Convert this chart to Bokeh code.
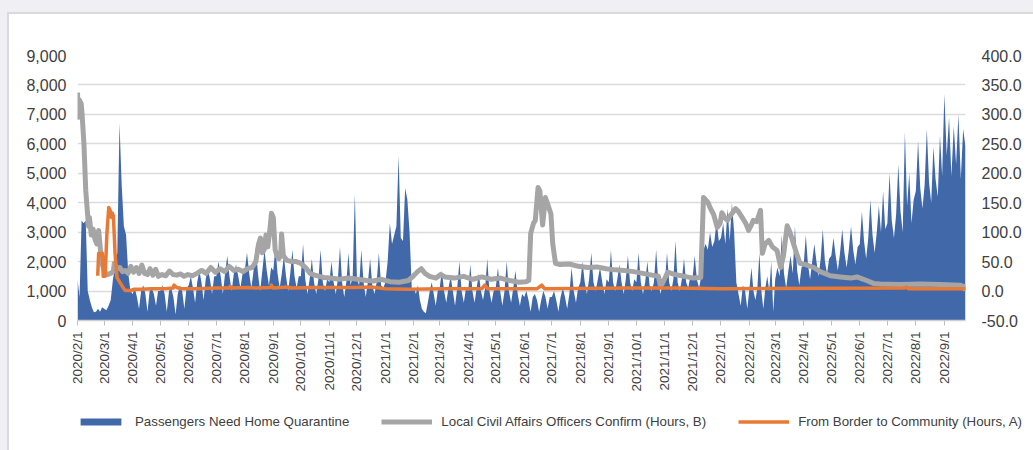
import math
import pandas as pd
from bokeh.plotting import figure
from bokeh.layouts import column
from bokeh.models import (Range1d, LinearAxis, FixedTicker, NumeralTickFormatter,
                          Legend, LegendItem)
from bokeh.embed import file_html
from bokeh.resources import INLINE

START = pd.Timestamp("2020-02-01")
END = pd.Timestamp("2022-09-24")

tick_labels = [
    "2020/2/1", "2020/3/1", "2020/4/1", "2020/5/1", "2020/6/1", "2020/7/1",
    "2020/8/1", "2020/9/1", "2020/10/1", "2020/11/1", "2020/12/1",
    "2021/1/1", "2021/2/1", "2021/3/1", "2021/4/1", "2021/5/1", "2021/6/1",
    "2021/7/1", "2021/8/1", "2021/9/1", "2021/10/1", "2021/11/1", "2021/12/1",
    "2022/1/1", "2022/2/1", "2022/3/1", "2022/4/1", "2022/5/1", "2022/6/1",
    "2022/7/1", "2022/8/1", "2022/9/1",
]

# Passengers needing home quarantine, sampled evenly within each month (one list per month)
blue_monthly = [
    [1400, 800, 3400, 3300, 3400, 1000, 700, 450, 280, 300, 400, 300, 450],          # 2020-02
    [400, 350, 500, 700, 1400, 1800, 2300, 6700, 4600, 3200, 2900, 1600, 1000],      # 2020-03
    [900, 1100, 800, 400, 1000, 1200, 900, 300, 1000, 1100, 900, 500, 1000],         # 2020-04
    [1000, 1200, 900, 300, 1000, 1100, 800, 200, 900, 1200, 1000, 400, 1100],        # 2020-05
    [1200, 1500, 1100, 600, 1300, 1700, 1300, 700, 1400, 1800, 1400, 900, 1500],     # 2020-06
    [1500, 2000, 1500, 900, 1600, 2200, 1500, 1000, 1600, 1900, 1500, 1100, 1600],   # 2020-07
    [1700, 2300, 1600, 1100, 1700, 2500, 1600, 1000, 1700, 2400, 1700, 1200, 1800],  # 2020-08
    [1700, 2500, 1600, 1100, 1600, 2200, 1500, 1000, 1600, 2400, 1500, 1100, 1500],  # 2020-09
    [1500, 2600, 1400, 900, 1400, 2100, 1300, 900, 1400, 2400, 1300, 1000, 1400],    # 2020-10
    [1300, 2000, 1300, 900, 1400, 2500, 1300, 800, 1300, 2300, 1200, 1500, 4300],    # 2020-11
    [1400, 1200, 2400, 1300, 800, 1300, 2100, 1200, 900, 1300, 2300, 1200, 1100],    # 2020-12
    [1300, 2000, 3300, 2600, 2900, 3200, 5600, 2800, 2700, 4500, 4100, 3000, 1100],  # 2021-01
    [1100, 900, 1200, 700, 400, 300, 250, 600, 1000, 1300, 900, 500, 1000],          # 2021-02
    [1100, 1700, 1000, 600, 1100, 1500, 1000, 500, 1100, 2000, 1000, 600, 1100],     # 2021-03
    [1000, 1900, 1000, 600, 1100, 1600, 1000, 700, 1100, 2100, 1000, 600, 1000],     # 2021-04
    [1100, 1800, 1000, 500, 1000, 2000, 1000, 600, 1100, 1700, 900, 500, 900],       # 2021-05
    [800, 1000, 700, 300, 800, 900, 700, 300, 700, 1000, 800, 400, 800],             # 2021-06
    [800, 1000, 700, 300, 800, 1100, 800, 400, 900, 1800, 1000, 600, 1100],          # 2021-07
    [1300, 2000, 1300, 900, 1400, 2300, 1300, 1000, 1400, 1800, 1300, 900, 1400],    # 2021-08
    [1300, 2400, 1300, 1000, 1400, 1900, 1300, 900, 1400, 2200, 1300, 1000, 1400],   # 2021-09
    [1300, 2300, 1300, 900, 1300, 2000, 1200, 1000, 1300, 2400, 1300, 900, 1300],    # 2021-10
    [1300, 2300, 1300, 1000, 1400, 2700, 1300, 1000, 1400, 2100, 1300, 1100, 1500],  # 2021-11
    [1400, 2200, 1400, 1100, 1500, 2400, 2600, 2400, 3000, 2500, 2700, 3400, 2700],  # 2021-12
    [2800, 3300, 2600, 3800, 2700, 4000, 3000, 1300, 900, 500, 1200, 1000, 400],     # 2022-01
    [1100, 1800, 1000, 700, 1100, 2300, 1000, 400, 1100, 1500, 1000, 2000, 300],     # 2022-02
    [1400, 1800, 1500, 2900, 1600, 1100, 1700, 2200, 1600, 3200, 1700, 1200, 1800],  # 2022-03
    [1900, 2900, 1900, 1400, 2000, 2600, 2000, 1500, 2100, 3100, 2000, 1600, 2100],  # 2022-04
    [2200, 2800, 2200, 1700, 2300, 3100, 2300, 1800, 2400, 3200, 2400, 1900, 2500],  # 2022-05
    [2600, 3700, 2700, 2100, 2800, 4100, 2900, 2300, 3000, 3900, 3000, 4400, 3100],  # 2022-06
    [3300, 5000, 3400, 2800, 3600, 5300, 3700, 3000, 6400, 3900, 5000, 3300, 4100],  # 2022-07
    [4400, 6100, 4500, 3800, 4600, 6500, 4700, 4000, 5900, 4800, 4200, 6300, 4900],  # 2022-08
    [7700, 5600, 6900, 4900, 6600, 5300, 7000, 4800, 6500, 5900],                    # 2022-09
]

# Local Civil Affairs Officers Confirm (hours, B): (days since 2020-02-01, hours)
gray_points = [
    (0, 337), (1, 295), (2, 325), (4, 318), (5, 300), (7, 250), (9, 170), (10, 150),
    (12, 110), (13, 125), (15, 95), (17, 105), (19, 88), (21, 80), (23, 103), (25, 70),
    (27, 45), (29, 35), (31, 30), (33, 28), (36, 30), (39, 33), (40, 47), (43, 38),
    (46, 40), (49, 33), (52, 35), (55, 30), (58, 42), (61, 32), (64, 40), (67, 30),
    (70, 44), (73, 30), (76, 28), (79, 38), (82, 27), (85, 37), (88, 25), (92, 28),
    (96, 26), (100, 34), (104, 28), (108, 27), (112, 29), (116, 25), (120, 28), (125, 26),
    (130, 30), (135, 35), (140, 30), (145, 40), (150, 32), (155, 38), (160, 33), (165, 42),
    (170, 35), (175, 37), (180, 33), (185, 38), (190, 40), (194, 50), (197, 80), (199, 90),
    (201, 65), (203, 70), (205, 95), (207, 75), (209, 100), (211, 132), (213, 125), (215, 70),
    (217, 60), (219, 55), (221, 60), (222, 97), (224, 60), (228, 52), (233, 50), (238, 50),
    (243, 47), (248, 40), (253, 30), (258, 27), (263, 25), (268, 23), (275, 22), (285, 20),
    (295, 22), (305, 20), (315, 18), (322, 17), (330, 20), (340, 16), (350, 15), (360, 18),
    (365, 25), (370, 33), (374, 38), (378, 30), (383, 25), (390, 22), (395, 28), (400, 24),
    (410, 22), (420, 25), (430, 20), (440, 24), (450, 20), (460, 22), (470, 18), (480, 15),
    (488, 16), (491, 18), (493, 98), (496, 115), (498, 120), (501, 176), (503, 170), (506, 112),
    (509, 159), (512, 145), (515, 131), (517, 80), (520, 47), (525, 45), (535, 46), (545, 42),
    (555, 40), (565, 41), (575, 38), (585, 36), (595, 35), (605, 33), (615, 30), (625, 27),
    (632, 25), (634, 9), (636, 12), (642, 32), (650, 28), (660, 25), (670, 22), (678, 23),
    (681, 159), (686, 150), (688, 142), (692, 130), (696, 108), (699, 115), (701, 133), (704, 125),
    (707, 120), (710, 128), (716, 140), (719, 135), (723, 125), (727, 115), (730, 103), (733, 112),
    (735, 120), (739, 118), (743, 137), (745, 64), (748, 80), (752, 86), (756, 75), (761, 69),
    (765, 40), (768, 60), (772, 111), (775, 100), (779, 80), (783, 60), (786, 47), (792, 45),
    (801, 40), (808, 33), (819, 26), (830, 24), (841, 22), (848, 24), (855, 20), (866, 13),
    (873, 12), (895, 11), (917, 12), (939, 11), (960, 10), (964, 8), (966, 1),
]

# From Border to Community (hours, A): (days since 2020-02-01, hours)
orange_points = [
    (22, 26), (23, 64), (26, 62), (27, 64), (28, 25), (30, 25), (31, 60), (32, 98),
    (34, 142), (36, 135), (37, 125), (38, 132), (39, 128), (41, 60), (43, 23), (46, 15),
    (50, 5), (52, 1), (58, 1), (62, 3), (70, 3), (80, 4), (95, 4), (104, 5),
    (105, 10), (108, 6), (112, 4), (130, 4), (150, 5), (165, 5), (166, 8), (168, 5),
    (185, 6), (195, 5), (210, 6), (211, 10), (213, 5), (230, 7), (232, 5), (260, 6),
    (300, 6), (320, 7), (335, 4), (360, 3), (400, 4), (440, 4), (443, 10), (446, 4),
    (500, 4), (505, 10), (508, 4), (600, 5), (650, 5), (700, 4), (900, 5), (902, 7),
    (904, 4), (966, 4),
]

series_labels = [
    "Passengers Need Home Quarantine",
    "Local Civil Affairs Officers Confirm (Hours, B)",
    "From Border to Community (Hours, A)",
]

BLUE = "#4169aa"
GRAY = "#a5a5a5"
ORANGE = "#e97a35"
TEXT = "#404040"
FONT = "Liberation Sans"

tick_days = [(pd.to_datetime(l, format="%Y/%m/%d") - START).days for l in tick_labels]
end_day = (END - START).days

blue_x, blue_y = [], []
for m, vals in enumerate(blue_monthly):
    s = tick_days[m]
    n = len(vals)
    if m + 1 < len(tick_days):
        step = (tick_days[m + 1] - s) / n
    else:
        step = (end_day - s) / (n - 1)
    blue_x += [s + k * step for k in range(n)]
    blue_y += vals

gray_day = [d for d, _ in gray_points]
gray_hours = [h for _, h in gray_points]
orange_day = [d for d, _ in orange_points]
orange_hours = [h for _, h in orange_points]

# ---------------- main chart ----------------
p_main = figure(width=1033, height=405, output_backend="svg", toolbar_location=None,
                x_range=Range1d(0, end_day), y_range=Range1d(0, 9000),
                min_border_left=77, min_border_right=68, min_border_top=55,
                min_border_bottom=85)
p_main.frame_align = False
p_main.extra_y_ranges = {"hours": Range1d(-50, 400)}
p_main.outline_line_color = None
p_main.border_fill_color = None

p_main.varea(x=blue_x, y1=0, y2=blue_y, fill_color=BLUE)
p_main.line(gray_day, gray_hours, y_range_name="hours", line_color=GRAY,
            line_width=5, line_join="round")
p_main.line(orange_day, orange_hours, y_range_name="hours", line_color=ORANGE,
            line_width=3.5, line_join="round")

ya = p_main.yaxis[0]
ya.ticker = FixedTicker(ticks=list(range(0, 9001, 1000)))
ya.formatter = NumeralTickFormatter(format="0,0")
ya.axis_line_color = None
ya.major_tick_line_color = None
ya.minor_tick_line_color = None
ya.major_label_text_font = FONT
ya.major_label_text_font_size = "16px"
ya.major_label_text_color = TEXT
ya.major_label_standoff = 5

ra = LinearAxis(y_range_name="hours",
                ticker=FixedTicker(ticks=list(range(-50, 401, 50))),
                formatter=NumeralTickFormatter(format="0.0"))
ra.axis_line_color = None
ra.major_tick_line_color = None
ra.minor_tick_line_color = None
ra.major_label_text_font = FONT
ra.major_label_text_font_size = "16px"
ra.major_label_text_color = TEXT
ra.major_label_standoff = 10
p_main.add_layout(ra, "right")

xa = p_main.xaxis[0]
xa.ticker = FixedTicker(ticks=tick_days)
xa.major_label_overrides = {d: l for d, l in zip(tick_days, tick_labels)}
xa.major_label_orientation = math.pi / 2
xa.major_label_text_font = FONT
xa.major_label_text_font_size = "13.5px"
xa.major_label_text_color = TEXT
xa.major_label_standoff = 6
xa.axis_line_color = "#d0d0d0"
xa.axis_line_width = 1.5
xa.major_tick_line_color = "#c0c0c0"
xa.major_tick_in = 0
xa.major_tick_out = 5
xa.minor_tick_line_color = None

p_main.xgrid.visible = False
p_main.ygrid.grid_line_color = "#dcdcdc"
p_main.ygrid.grid_line_width = 1.5

# ---------------- legend strip ----------------
p_leg = figure(width=1033, height=45, output_backend="svg", toolbar_location=None,
               x_range=Range1d(0, 1), y_range=Range1d(0, 1),
               x_axis_type=None, y_axis_type=None, min_border=0)
p_leg.frame_align = False
p_leg.outline_line_color = None
p_leg.border_fill_color = None
p_leg.background_fill_color = None
p_leg.xgrid.visible = False
p_leg.ygrid.visible = False
# legend-key renderers: their data lies outside the strip's ranges, so only the key shows
lg_blue = p_leg.varea(x=[5, 6], y1=[5, 5], y2=[6, 6], fill_color=BLUE)
lg_gray = p_leg.line(x=[5, 6], y=[5, 5], line_color=GRAY, line_width=5)
lg_orange = p_leg.line(x=[5, 6], y=[5, 5], line_color=ORANGE, line_width=3.5)

legend = Legend(items=[
    LegendItem(label=series_labels[0], renderers=[lg_blue]),
    LegendItem(label=series_labels[1], renderers=[lg_gray]),
    LegendItem(label=series_labels[2], renderers=[lg_orange]),
], orientation="horizontal", location=(75, 21), glyph_width=51, glyph_height=9,
    label_standoff=9, spacing=32, padding=0, margin=0, border_line_color=None,
    background_fill_alpha=0, label_text_font=FONT, label_text_font_size="13.3px",
    label_text_color=TEXT, label_height=9)
p_leg.add_layout(legend, "center")

p = column(p_main, p_leg, spacing=0)
p.styles = {"background-color": "white",
            "box-shadow": "inset 7px 12px 0 0 #efeff4, inset 9px 14px 0 0 #d9d9de"}

open("out.html", "w").write(file_html(p, INLINE))
